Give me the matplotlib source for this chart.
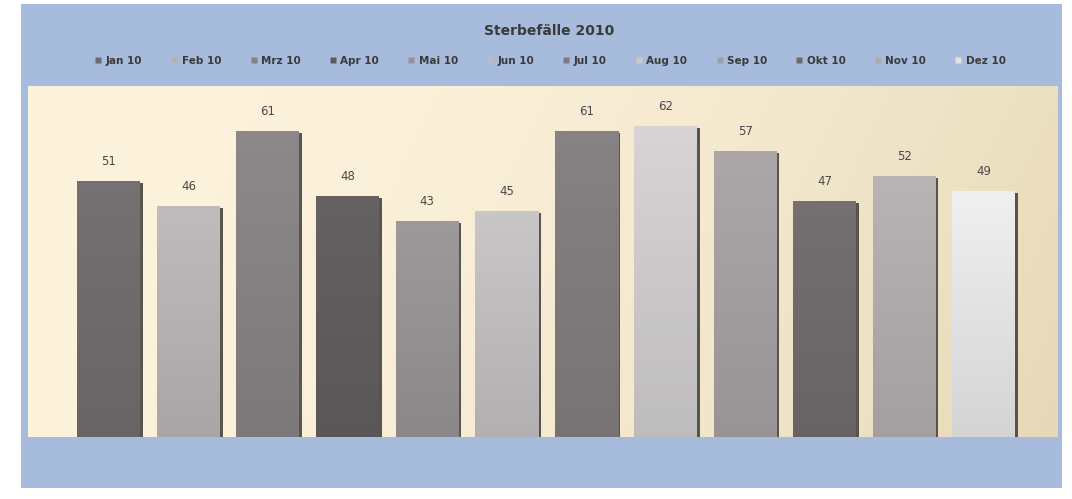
import numpy as np
import matplotlib
matplotlib.use("Agg")
import matplotlib.pyplot as plt
from matplotlib.patches import Rectangle
from matplotlib.lines import Line2D

title = "Sterbefälle 2010"
months = ["Jan 10", "Feb 10", "Mrz 10", "Apr 10", "Mai 10", "Jun 10",
          "Jul 10", "Aug 10", "Sep 10", "Okt 10", "Nov 10", "Dez 10"]
values = [51, 46, 61, 48, 43, 45, 61, 62, 57, 47, 52, 49]
colors = ["#6f6b6c", "#b5b1b2", "#858182", "#605c5d", "#959192", "#bebbbc",
          "#7f7b7c", "#cac8c9", "#a29e9f", "#6e6a6b", "#aeaaab", "#e3e2e3"]

W, H = 1072, 499
fig = plt.figure(figsize=(W / 100, H / 100), dpi=100)
fig.patch.set_facecolor("white")

# blue chart area
fig.patches.append(Rectangle((21 / W, 1 - 488 / H), (1062 - 21) / W, (488 - 4) / H,
                             transform=fig.transFigure, facecolor="#a7bbdd",
                             edgecolor="none", zorder=0))

ax = fig.add_axes([28 / W, 1 - 437 / H, (1058 - 28) / W, (437 - 86) / H])
ax.set_zorder(1)

def hex2rgb(h):
    h = h.lstrip("#")
    return np.array([int(h[i:i + 2], 16) for i in (0, 2, 4)]) / 255.0

# background gradient
nx = 256
gx = np.linspace(0, 1, nx)
gy = np.linspace(0, 1, 64)
X, Y = np.meshgrid(gx, gy)
t = np.clip(0.75 * X ** 2 + 0.25 * (1 - Y) * X, 0, 1)
c0 = hex2rgb("#fdf2dc")
c1 = hex2rgb("#e6d9b8")
img = c0[None, None, :] * (1 - t[..., None]) + c1[None, None, :] * t[..., None]
ax.imshow(img, extent=[0, 1, 0, 1], transform=ax.transAxes, aspect="auto",
          zorder=0, origin="lower")

ymax = 70
xl, xr = -1.03, 11.92
ax.set_xlim(xl, xr)
ax.set_ylim(0, ymax)
px = (xr - xl) / (1058 - 28)
py = ymax / (437 - 86)

bw = 63 * px
for i, (v, c) in enumerate(zip(values, colors)):
    x0 = i - bw / 2 - 1 * px
    # right side shadow
    ax.add_patch(Rectangle((x0 + bw, 0), 2.6 * px, v - 1.5 * py, facecolor="#3e3a36",
                           edgecolor="none", alpha=0.85, zorder=2))
    base = hex2rgb(c)
    g = np.linspace(0, 1, 64)[:, None]
    top = np.clip(base * 1.06, 0, 1)
    bot = base * 0.94
    grad = bot[None, :] * (1 - g[..., None]) + top[None, :] * g[..., None]
    grad = np.repeat(grad, 4, axis=1)
    ax.imshow(grad, extent=[x0, x0 + bw, 0, v], aspect="auto", origin="lower",
              zorder=3, interpolation="bilinear")
    ax.text(i - 1 * px, v + 4, str(v), ha="center", va="center", fontsize=8.5,
            color="#4a4848", zorder=4)

ax.set_xlim(xl, xr)
ax.set_ylim(0, ymax)
ax.set_xticks([])
ax.set_yticks([])
for s in ax.spines.values():
    s.set_visible(False)

fig.text(0.512, 1 - 31 / H, title, ha="center", va="center", fontsize=10,
         fontweight="bold", color="#3a3a3a")

handles = [Line2D([], [], marker="s", linestyle="none", markersize=5,
                  markerfacecolor=c, markeredgecolor="none") for c in colors]
fig.legend(handles, months, loc="center", bbox_to_anchor=(0.513, 1 - 61 / H),
           ncol=12, frameon=False, handlelength=0.8,
           handletextpad=0.3, columnspacing=2.7, prop={"weight": "semibold", "size": 7.5},
           labelcolor="#3a3a3a")

fig.savefig("out.png", dpi=100, facecolor="white")
